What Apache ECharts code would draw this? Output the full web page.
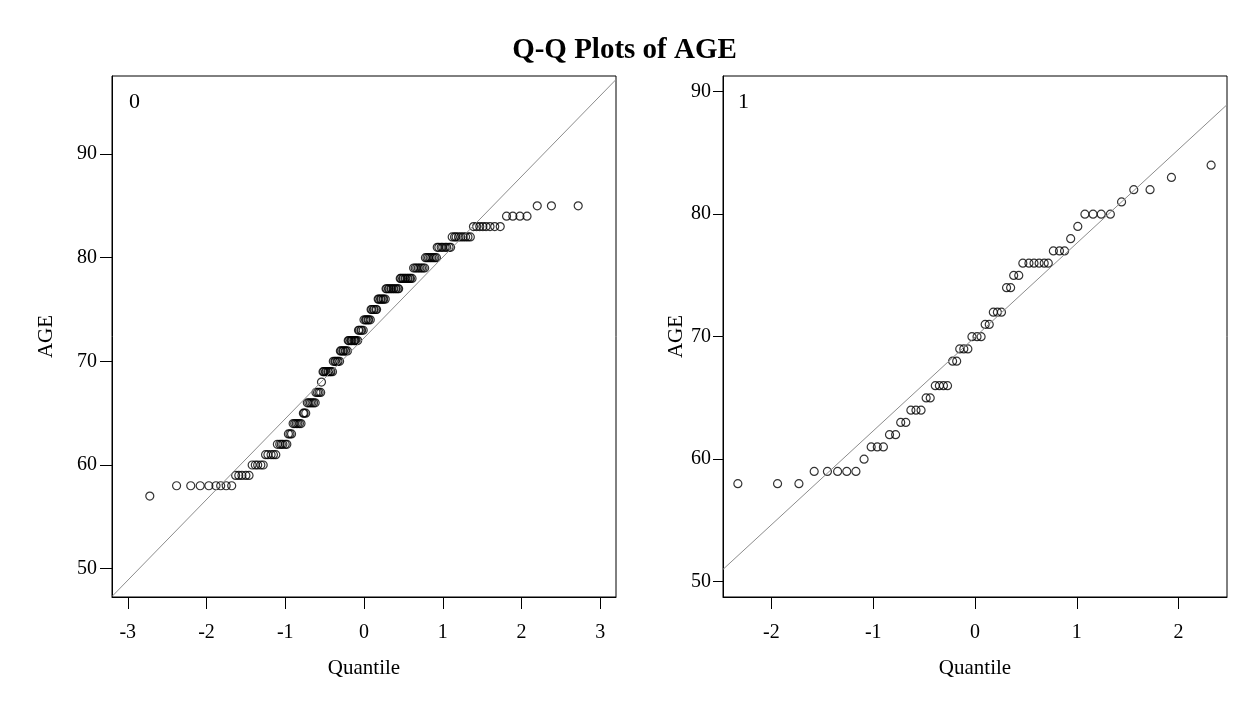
<!DOCTYPE html>
<html>
<head>
<meta charset="utf-8">
<title>Q-Q Plots of AGE</title>
<script src="https://cdn.jsdelivr.net/npm/echarts@6/dist/echarts.min.js"></script>
<style>
  html, body { margin: 0; padding: 0; background: #fff; }
  #chart { width: 1249px; height: 705px; }
</style>
</head>
<body>
<div id="chart"></div>
<script>
// group 0: one array of normal quantiles per age level
const ageLevels0 = [57, 58, 59, 60, 61, 62, 63, 64, 65, 66, 67, 68, 69, 70, 71, 72, 73, 74, 75, 76, 77, 78, 79, 80, 81, 82, 83, 84, 85]
const quantiles0 = [
  [-2.72],
  [-2.38, -2.20, -2.08, -1.97, -1.88, -1.82, -1.75, -1.68],
  [-1.63, -1.59, -1.55, -1.50, -1.46],
  [-1.42, -1.38, -1.35, -1.31, -1.28],
  [-1.25, -1.22, -1.18, -1.15, -1.12],
  [-1.10, -1.07, -1.05, -1.03, -1.00, -0.98],
  [-0.96, -0.94, -0.92],
  [-0.90, -0.88, -0.86, -0.84, -0.82, -0.80],
  [-0.77, -0.76, -0.74],
  [-0.72, -0.70, -0.68, -0.66, -0.64, -0.62],
  [-0.61, -0.59, -0.57, -0.55],
  [-0.54],
  [-0.52, -0.51, -0.49, -0.48, -0.46, -0.45, -0.43, -0.42, -0.40],
  [-0.39, -0.37, -0.36, -0.34, -0.33, -0.31],
  [-0.30, -0.29, -0.27, -0.26, -0.24, -0.23, -0.21],
  [-0.20, -0.19, -0.17, -0.16, -0.15, -0.13, -0.12, -0.11, -0.10, -0.08],
  [-0.07, -0.06, -0.04, -0.03, -0.01],
  [0.00, 0.02, 0.03, 0.05, 0.06, 0.08],
  [0.09, 0.10, 0.12, 0.13, 0.15, 0.16],
  [0.18, 0.19, 0.21, 0.22, 0.24, 0.25, 0.27],
  [0.28, 0.29, 0.31, 0.32, 0.34, 0.35, 0.37, 0.38, 0.40, 0.41, 0.43, 0.44],
  [0.46, 0.47, 0.49, 0.50, 0.52, 0.53, 0.55, 0.56, 0.58, 0.59, 0.61],
  [0.63, 0.65, 0.67, 0.69, 0.71, 0.73, 0.75, 0.77],
  [0.78, 0.80, 0.82, 0.84, 0.86, 0.88, 0.90, 0.92],
  [0.93, 0.95, 0.98, 1.00, 1.03, 1.05, 1.08, 1.10],
  [1.12, 1.15, 1.17, 1.20, 1.23, 1.26, 1.29, 1.32, 1.35],
  [1.39, 1.43, 1.47, 1.51, 1.55, 1.60, 1.66, 1.73],
  [1.81, 1.89, 1.98, 2.07],
  [2.20, 2.38, 2.72]
]

// group 1
const ageLevels1 = [58, 59, 60, 61, 62, 63, 64, 65, 66, 68, 69, 70, 71, 72, 74, 75, 76, 77, 78, 79, 80, 81, 82, 83, 84]
const quantiles1 = [
  [-2.33, -1.94, -1.73],
  [-1.58, -1.45, -1.35, -1.26, -1.17],
  [-1.09],
  [-1.02, -0.96, -0.90],
  [-0.84, -0.78],
  [-0.73, -0.68],
  [-0.63, -0.58, -0.53],
  [-0.48, -0.44],
  [-0.39, -0.35, -0.31, -0.27],
  [-0.22, -0.18],
  [-0.15, -0.11, -0.07],
  [-0.03, 0.02, 0.06],
  [0.10, 0.14],
  [0.18, 0.22, 0.26],
  [0.31, 0.35],
  [0.38, 0.43],
  [0.47, 0.53, 0.58, 0.63, 0.68, 0.72],
  [0.77, 0.83, 0.88],
  [0.94],
  [1.01],
  [1.08, 1.16, 1.24, 1.33],
  [1.44],
  [1.56, 1.72],
  [1.93],
  [2.32]
]

// reference lines: [mu, sigma]
const refLine0 = [72.25, 7.79]
const refLine1 = [69.97, 7.66]

// ticks
const xTicks0 = [-3, -2, -1, 0, 1, 2, 3]
const xTicks1 = [-2, -1, 0, 1, 2]
const yTicks0 = [50, 60, 70, 80, 90]
const yTicks1 = [50, 60, 70, 80, 90]

const FONT = 'Liberation Serif'

function toPoints (levels, quantiles) {
  const pts = []
  levels.forEach((age, i) => {
    quantiles[i].forEach(q => pts.push([q, age]))
  })
  return pts
}

function lineEnds (ref, xmin, xmax) {
  return [[xmin, ref[0] + ref[1] * xmin], [xmax, ref[0] + ref[1] * xmax]]
}

const xRange0 = [-3.2, 3.2]
const yRange0 = [47.27, 97.52]
const xRange1 = [-2.476, 2.476]
const yRange1 = [48.75, 91.28]

function xAxisOf (idx, range, ticks) {
  return {
    gridIndex: idx,
    type: 'value',
    min: range[0],
    max: range[1],
    name: 'Quantile',
    nameLocation: 'middle',
    nameGap: 61,
    nameTextStyle: { fontFamily: FONT, fontSize: 21, color: '#000' },
    axisLine: { show: true, onZero: false, lineStyle: { color: '#000', width: 1 } },
    axisTick: { show: true, length: 12, customValues: ticks, lineStyle: { color: '#000', width: 1 } },
    axisLabel: { customValues: ticks, margin: 26, fontFamily: FONT, fontSize: 20, color: '#000' },
    splitLine: { show: false }
  }
}

function yAxisOf (idx, range, ticks, tickLen, labelMargin, nameGap) {
  return {
    gridIndex: idx,
    type: 'value',
    min: range[0],
    max: range[1],
    name: 'AGE',
    nameLocation: 'middle',
    nameGap: nameGap,
    nameRotate: 90,
    nameTextStyle: { fontFamily: FONT, fontSize: 21, color: '#000' },
    axisLine: { show: true, onZero: false, lineStyle: { color: '#000', width: 1 } },
    axisTick: { show: true, length: tickLen, customValues: ticks, lineStyle: { color: '#000', width: 1 } },
    axisLabel: { customValues: ticks, margin: labelMargin, fontFamily: FONT, fontSize: 20, color: '#000' },
    splitLine: { show: false }
  }
}

const pointStyle = { color: 'rgba(0,0,0,0)', borderColor: '#000', borderWidth: 1.2 }

const myChart = echarts.init(document.getElementById('chart'), null, { renderer: 'canvas' })
const option = {
  animation: false,
  backgroundColor: '#fff',
  title: [
    { text: 'Q-Q Plots of AGE', left: 'center', top: 31, textStyle: { fontFamily: FONT, fontWeight: 'bold', fontSize: 29, color: '#000' } },
    { text: '0', left: 124, top: 86, textStyle: { fontFamily: FONT, fontWeight: 'normal', fontSize: 22, color: '#000' } },
    { text: '1', left: 733, top: 86, textStyle: { fontFamily: FONT, fontWeight: 'normal', fontSize: 22, color: '#000' } }
  ],
  grid: [
    { left: 112, top: 76, width: 504, height: 521, show: true, borderColor: '#000', borderWidth: 1, backgroundColor: 'transparent' },
    { left: 723, top: 76, width: 504, height: 521, show: true, borderColor: '#000', borderWidth: 1, backgroundColor: 'transparent' }
  ],
  xAxis: [xAxisOf(0, xRange0, xTicks0), xAxisOf(1, xRange1, xTicks1)],
  yAxis: [yAxisOf(0, yRange0, yTicks0, 12, 15, 55), yAxisOf(1, yRange1, yTicks1, 10, 12, 30)],
  series: [
    {
      type: 'line',
      xAxisIndex: 0,
      yAxisIndex: 0,
      data: lineEnds(refLine0, xRange0[0], xRange0[1]),
      symbol: 'none',
      clip: true,
      lineStyle: { color: '#8c8c8c', width: 1 }
    },
    {
      type: 'scatter',
      xAxisIndex: 0,
      yAxisIndex: 0,
      data: toPoints(ageLevels0, quantiles0),
      symbol: 'circle',
      symbolSize: 8,
      itemStyle: pointStyle
    },
    {
      type: 'line',
      xAxisIndex: 1,
      yAxisIndex: 1,
      data: lineEnds(refLine1, xRange1[0], xRange1[1]),
      symbol: 'none',
      clip: true,
      lineStyle: { color: '#8c8c8c', width: 1 }
    },
    {
      type: 'scatter',
      xAxisIndex: 1,
      yAxisIndex: 1,
      data: toPoints(ageLevels1, quantiles1),
      symbol: 'circle',
      symbolSize: 8,
      itemStyle: pointStyle
    }
  ]
}
myChart.setOption(option)
</script>
</body>
</html>
